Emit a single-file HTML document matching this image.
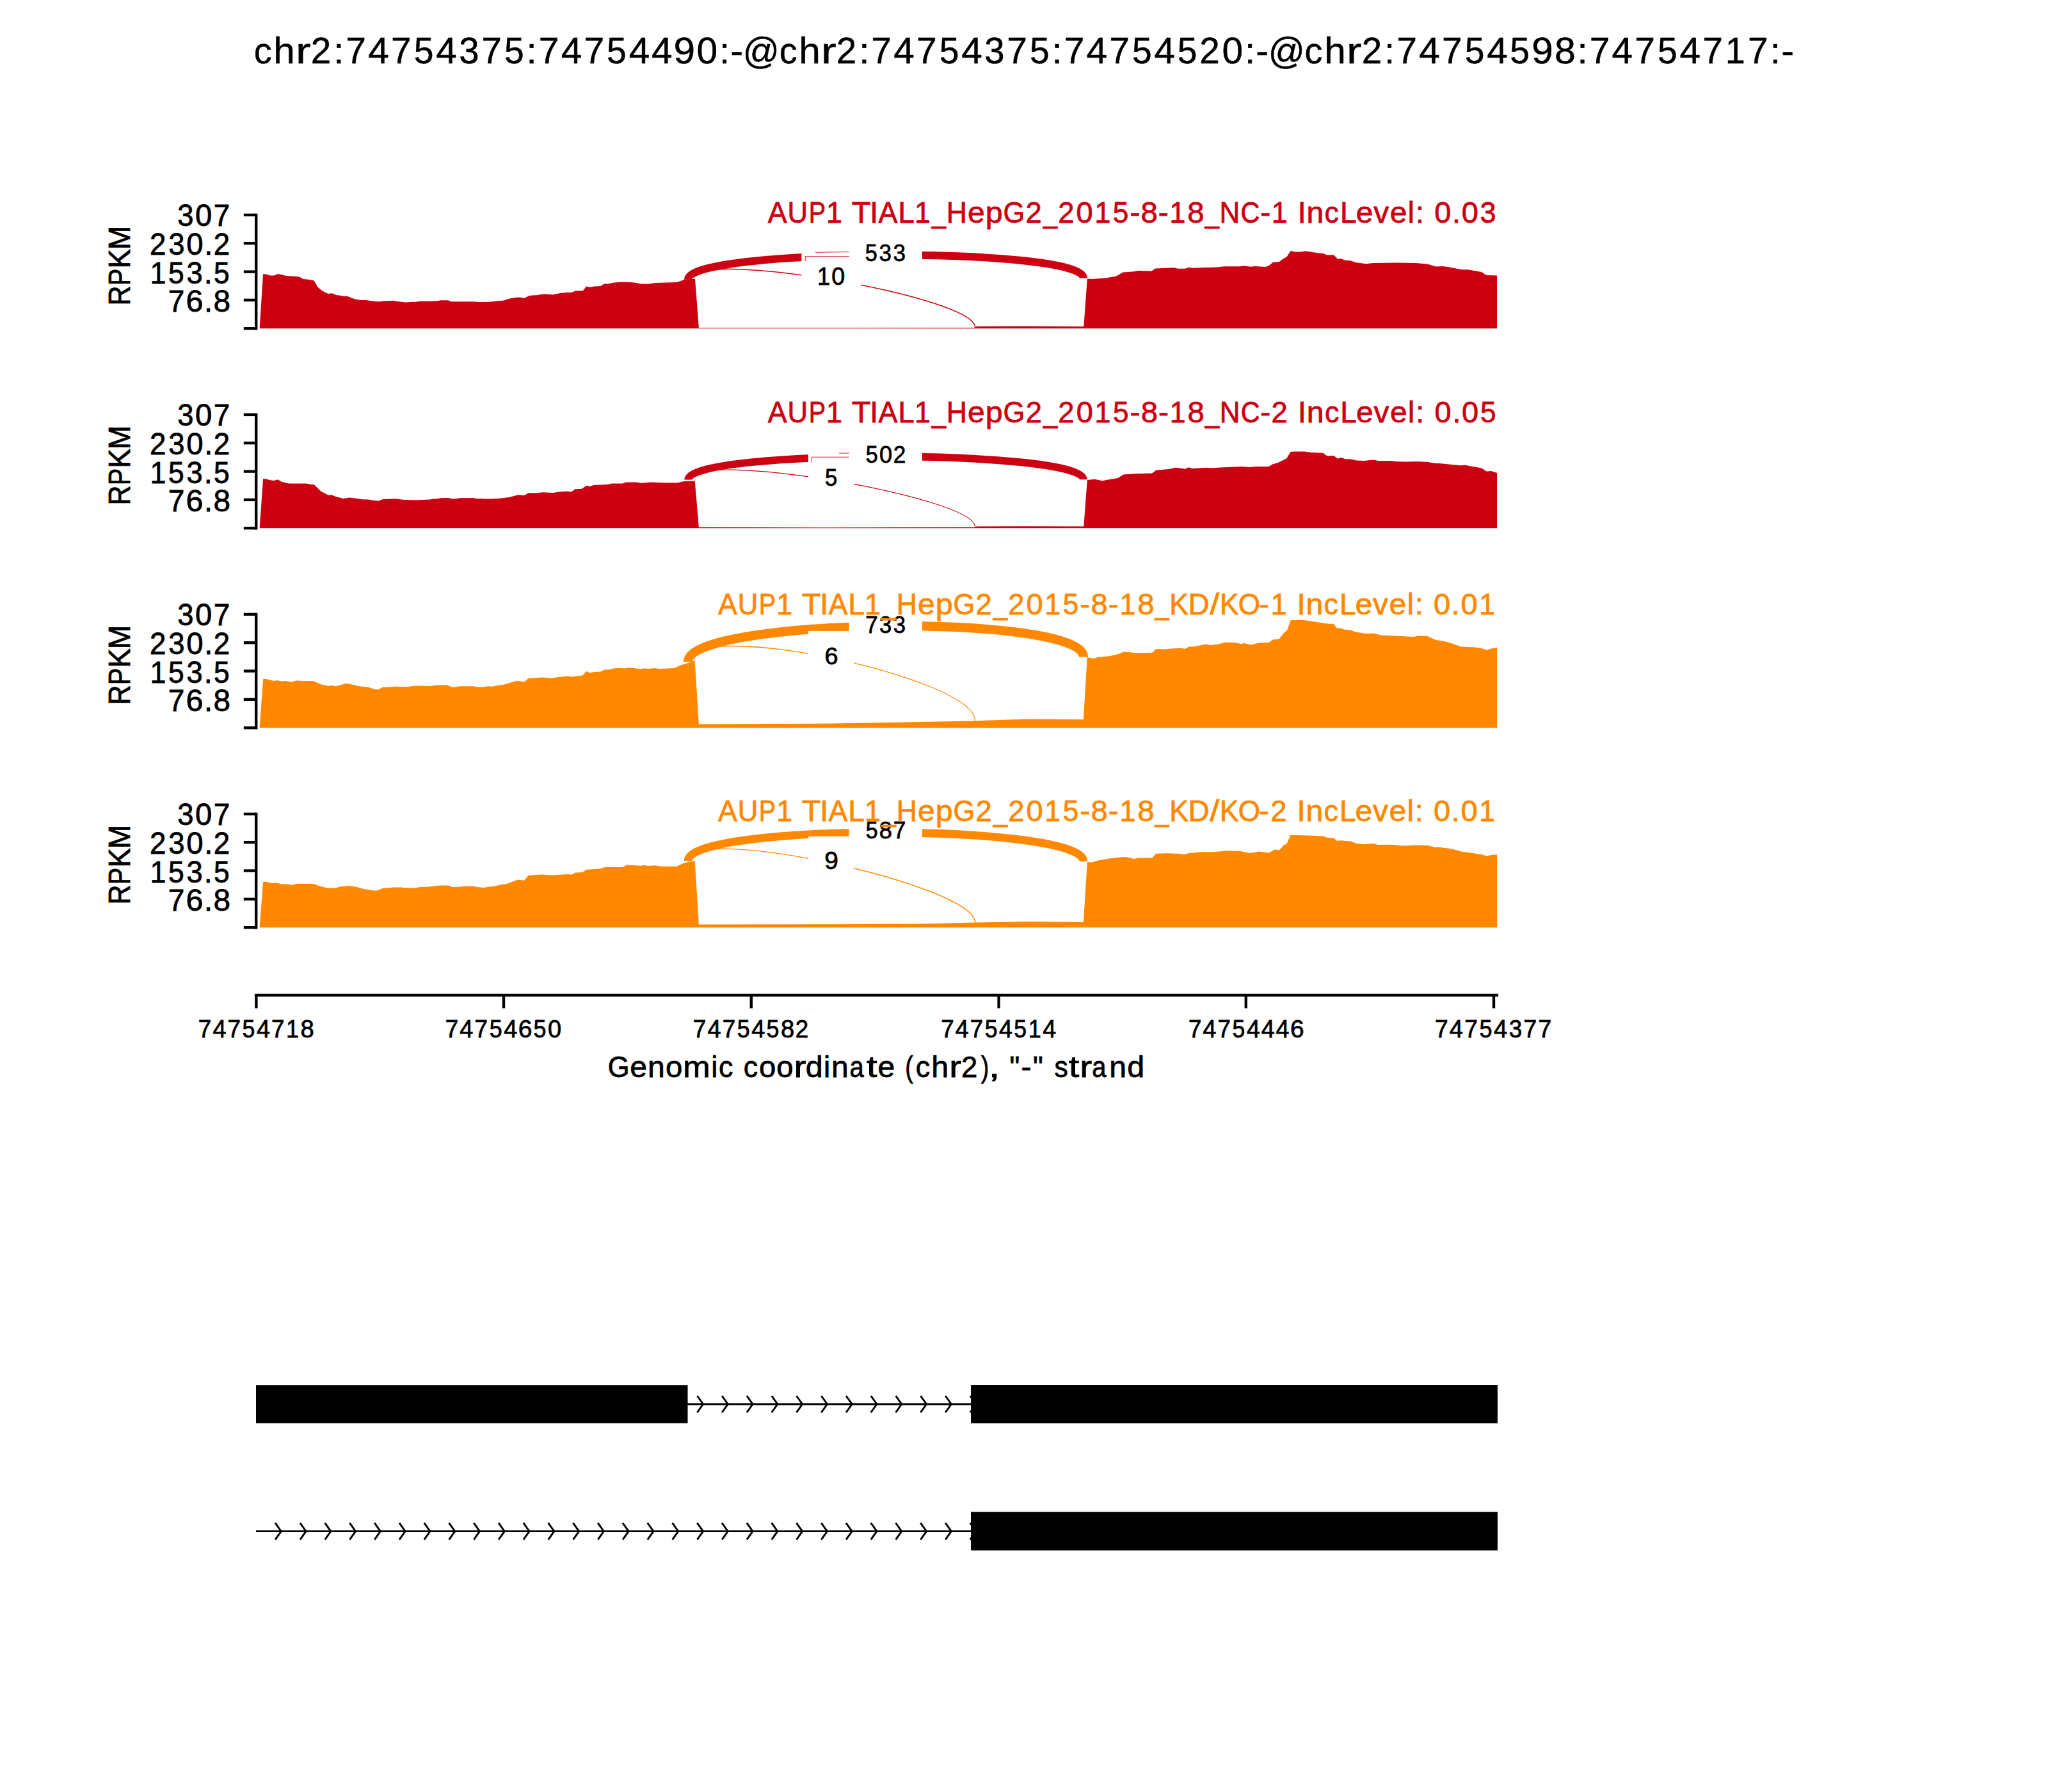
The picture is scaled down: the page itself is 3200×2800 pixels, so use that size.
<!DOCTYPE html><html><head><meta charset="utf-8"><style>html,body{margin:0;padding:0;background:#fff;}svg{display:block;}text{font-family:"Liberation Sans",sans-serif;}</style></head><body>
<svg width="3200" height="2800" viewBox="0 0 3200 2800">
<rect width="3200" height="2800" fill="#fff"/>
<g font-size="58.22" fill="#000" stroke="#000" stroke-width="0.5"><text x="396.68" y="98.60" textLength="27.93" lengthAdjust="spacingAndGlyphs">c</text><text x="427.30" y="98.60" textLength="33.63" lengthAdjust="spacingAndGlyphs">h</text><text x="462.12" y="98.60" textLength="23.62" lengthAdjust="spacingAndGlyphs">r</text><text x="485.75" y="98.60" textLength="31.57" lengthAdjust="spacingAndGlyphs">2</text><text x="521.17" y="98.60" textLength="16.22" lengthAdjust="spacingAndGlyphs">:</text><text x="540.33" y="98.60" textLength="31.74" lengthAdjust="spacingAndGlyphs">7</text><text x="575.26" y="98.60" textLength="32.57" lengthAdjust="spacingAndGlyphs">4</text><text x="611.00" y="98.60" textLength="31.74" lengthAdjust="spacingAndGlyphs">7</text><text x="646.70" y="98.60" textLength="30.72" lengthAdjust="spacingAndGlyphs">5</text><text x="681.26" y="98.60" textLength="32.57" lengthAdjust="spacingAndGlyphs">4</text><text x="717.33" y="98.60" textLength="31.38" lengthAdjust="spacingAndGlyphs">3</text><text x="752.34" y="98.60" textLength="31.74" lengthAdjust="spacingAndGlyphs">7</text><text x="788.04" y="98.60" textLength="30.72" lengthAdjust="spacingAndGlyphs">5</text><text x="822.55" y="98.60" textLength="16.22" lengthAdjust="spacingAndGlyphs">:</text><text x="841.72" y="98.60" textLength="31.74" lengthAdjust="spacingAndGlyphs">7</text><text x="876.65" y="98.60" textLength="32.57" lengthAdjust="spacingAndGlyphs">4</text><text x="912.39" y="98.60" textLength="31.74" lengthAdjust="spacingAndGlyphs">7</text><text x="948.09" y="98.60" textLength="30.72" lengthAdjust="spacingAndGlyphs">5</text><text x="982.65" y="98.60" textLength="32.57" lengthAdjust="spacingAndGlyphs">4</text><text x="1017.99" y="98.60" textLength="32.57" lengthAdjust="spacingAndGlyphs">4</text><text x="1052.61" y="98.60" textLength="33.56" lengthAdjust="spacingAndGlyphs">9</text><text x="1088.60" y="98.60" textLength="32.67" lengthAdjust="spacingAndGlyphs">0</text><text x="1123.94" y="98.60" textLength="16.22" lengthAdjust="spacingAndGlyphs">:</text><text x="1141.32" y="98.60" textLength="20.00" lengthAdjust="spacingAndGlyphs">-</text><text x="1160.67" y="98.60" textLength="57.20" lengthAdjust="spacingAndGlyphs">@</text><text x="1217.64" y="98.60" textLength="27.93" lengthAdjust="spacingAndGlyphs">c</text><text x="1248.26" y="98.60" textLength="33.63" lengthAdjust="spacingAndGlyphs">h</text><text x="1283.08" y="98.60" textLength="23.62" lengthAdjust="spacingAndGlyphs">r</text><text x="1306.71" y="98.60" textLength="31.57" lengthAdjust="spacingAndGlyphs">2</text><text x="1342.13" y="98.60" textLength="16.22" lengthAdjust="spacingAndGlyphs">:</text><text x="1361.30" y="98.60" textLength="31.74" lengthAdjust="spacingAndGlyphs">7</text><text x="1396.22" y="98.60" textLength="32.57" lengthAdjust="spacingAndGlyphs">4</text><text x="1431.97" y="98.60" textLength="31.74" lengthAdjust="spacingAndGlyphs">7</text><text x="1467.67" y="98.60" textLength="30.72" lengthAdjust="spacingAndGlyphs">5</text><text x="1502.23" y="98.60" textLength="32.57" lengthAdjust="spacingAndGlyphs">4</text><text x="1538.29" y="98.60" textLength="31.38" lengthAdjust="spacingAndGlyphs">3</text><text x="1573.31" y="98.60" textLength="31.74" lengthAdjust="spacingAndGlyphs">7</text><text x="1609.01" y="98.60" textLength="30.72" lengthAdjust="spacingAndGlyphs">5</text><text x="1643.52" y="98.60" textLength="16.22" lengthAdjust="spacingAndGlyphs">:</text><text x="1662.69" y="98.60" textLength="31.74" lengthAdjust="spacingAndGlyphs">7</text><text x="1697.61" y="98.60" textLength="32.57" lengthAdjust="spacingAndGlyphs">4</text><text x="1733.36" y="98.60" textLength="31.74" lengthAdjust="spacingAndGlyphs">7</text><text x="1769.06" y="98.60" textLength="30.72" lengthAdjust="spacingAndGlyphs">5</text><text x="1803.62" y="98.60" textLength="32.57" lengthAdjust="spacingAndGlyphs">4</text><text x="1839.73" y="98.60" textLength="30.72" lengthAdjust="spacingAndGlyphs">5</text><text x="1874.15" y="98.60" textLength="31.57" lengthAdjust="spacingAndGlyphs">2</text><text x="1909.56" y="98.60" textLength="32.67" lengthAdjust="spacingAndGlyphs">0</text><text x="1944.91" y="98.60" textLength="16.22" lengthAdjust="spacingAndGlyphs">:</text><text x="1962.28" y="98.60" textLength="20.00" lengthAdjust="spacingAndGlyphs">-</text><text x="1981.63" y="98.60" textLength="57.20" lengthAdjust="spacingAndGlyphs">@</text><text x="2038.60" y="98.60" textLength="27.93" lengthAdjust="spacingAndGlyphs">c</text><text x="2069.22" y="98.60" textLength="33.63" lengthAdjust="spacingAndGlyphs">h</text><text x="2104.04" y="98.60" textLength="23.62" lengthAdjust="spacingAndGlyphs">r</text><text x="2127.68" y="98.60" textLength="31.57" lengthAdjust="spacingAndGlyphs">2</text><text x="2163.09" y="98.60" textLength="16.22" lengthAdjust="spacingAndGlyphs">:</text><text x="2182.26" y="98.60" textLength="31.74" lengthAdjust="spacingAndGlyphs">7</text><text x="2217.19" y="98.60" textLength="32.57" lengthAdjust="spacingAndGlyphs">4</text><text x="2252.93" y="98.60" textLength="31.74" lengthAdjust="spacingAndGlyphs">7</text><text x="2288.63" y="98.60" textLength="30.72" lengthAdjust="spacingAndGlyphs">5</text><text x="2323.19" y="98.60" textLength="32.57" lengthAdjust="spacingAndGlyphs">4</text><text x="2359.30" y="98.60" textLength="30.72" lengthAdjust="spacingAndGlyphs">5</text><text x="2393.15" y="98.60" textLength="33.56" lengthAdjust="spacingAndGlyphs">9</text><text x="2429.11" y="98.60" textLength="32.86" lengthAdjust="spacingAndGlyphs">8</text><text x="2464.48" y="98.60" textLength="16.22" lengthAdjust="spacingAndGlyphs">:</text><text x="2483.65" y="98.60" textLength="31.74" lengthAdjust="spacingAndGlyphs">7</text><text x="2518.58" y="98.60" textLength="32.57" lengthAdjust="spacingAndGlyphs">4</text><text x="2554.32" y="98.60" textLength="31.74" lengthAdjust="spacingAndGlyphs">7</text><text x="2590.02" y="98.60" textLength="30.72" lengthAdjust="spacingAndGlyphs">5</text><text x="2624.58" y="98.60" textLength="32.57" lengthAdjust="spacingAndGlyphs">4</text><text x="2660.32" y="98.60" textLength="31.74" lengthAdjust="spacingAndGlyphs">7</text><text x="2695.85" y="98.60" textLength="31.07" lengthAdjust="spacingAndGlyphs">1</text><text x="2730.99" y="98.60" textLength="31.74" lengthAdjust="spacingAndGlyphs">7</text><text x="2765.87" y="98.60" textLength="16.22" lengthAdjust="spacingAndGlyphs">:</text><text x="2783.25" y="98.60" textLength="20.00" lengthAdjust="spacingAndGlyphs">-</text></g>
<polygon points="405.6,513.2 411.1,427.9 417.3,428.8 422.2,430.4 428.1,430.4 434.0,427.9 438.8,428.8 445.7,430.8 454.5,431.4 464.2,432.1 469.1,433.3 474.0,436.0 481.8,436.8 490.6,438.6 496.4,448.4 502.3,453.6 508.2,457.1 513.0,458.9 518.9,458.3 525.7,461.3 530.6,461.4 537.5,463.0 542.3,462.8 547.2,464.4 554.1,467.3 563.8,468.9 571.6,468.9 581.4,470.2 592.1,471.2 599.0,470.2 614.6,469.8 621.4,471.0 633.2,472.6 643.9,471.8 649.8,471.8 656.6,470.6 671.3,470.6 683.0,470.2 688.8,469.3 700.5,469.3 705.4,471.2 718.1,471.2 741.6,471.2 747.4,472.0 767.0,471.6 776.7,470.2 785.9,469.8 797.6,466.3 809.3,464.4 815.2,465.0 819.1,465.9 825.9,462.4 830.8,461.4 838.6,461.3 848.4,459.5 864.0,460.3 875.7,458.1 886.4,457.0 893.3,457.1 899.1,454.6 910.9,454.2 916.1,447.4 921.6,448.8 928.4,447.6 938.2,447.0 944.1,443.5 949.9,443.5 959.7,441.5 971.4,440.7 985.1,441.1 994.8,442.1 1000.7,443.5 1012.4,443.7 1024.1,442.1 1033.9,441.7 1057.3,440.9 1065.2,438.6 1069.1,436.6 1086.0,435.7 1091.9,512.2 1300.0,512.3 1522.0,512.0 1526.0,510.0 1600.0,509.8 1693.3,510.2 1698.8,435.4 1705.6,436.0 1727.1,434.5 1743.7,431.7 1754.5,425.5 1772.0,424.3 1777.9,423.1 1799.4,423.5 1805.2,419.6 1822.8,418.8 1835.1,418.2 1840.2,419.8 1851.6,419.8 1857.9,417.7 1863.0,418.8 1901.1,417.5 1913.8,416.2 1936.7,416.2 1943.0,415.2 1954.4,416.7 1960.8,416.0 1977.3,417.0 1982.4,415.2 1988.7,410.1 1998.9,409.1 2005.2,404.3 2010.8,401.0 2016.6,392.1 2023.0,393.6 2033.1,393.6 2039.5,392.3 2053.5,394.6 2067.4,395.9 2073.8,398.4 2083.9,398.2 2090.3,404.8 2095.4,404.0 2101.7,406.8 2109.3,407.1 2118.2,410.1 2134.7,412.2 2144.9,411.1 2185.5,410.6 2213.4,411.1 2231.2,412.7 2243.9,416.5 2254.1,416.0 2261.7,417.0 2284.5,421.3 2293.4,421.3 2315.0,425.1 2322.6,429.9 2339.1,430.4 2339.1,513.2" fill="#CC0011"/>
<path d="M1075.0,436.6 C1075.0,387.10 1693.0,385.00 1693.0,434.5" fill="none" stroke="#CC0011" stroke-width="12.0"/>
<path d="M1075.0,436.6 C1075.0,387.10 1523.6,462.00 1523.6,511.5" fill="none" stroke="#CC0011" stroke-width="1.6"/>
<line x1="400.2" y1="333.7" x2="400.2" y2="515.4" stroke="#000" stroke-width="4.4"/>
<line x1="380.8" y1="513.2" x2="400.2" y2="513.2" stroke="#000" stroke-width="4.4"/>
<line x1="380.8" y1="468.9" x2="400.2" y2="468.9" stroke="#000" stroke-width="4.4"/>
<line x1="380.8" y1="424.6" x2="400.2" y2="424.6" stroke="#000" stroke-width="4.4"/>
<line x1="380.8" y1="380.2" x2="400.2" y2="380.2" stroke="#000" stroke-width="4.4"/>
<line x1="380.8" y1="335.9" x2="400.2" y2="335.9" stroke="#000" stroke-width="4.4"/>
<polygon points="405.6,825.2 411.1,748.0 416.4,748.6 422.2,750.2 428.1,750.9 433.9,749.2 440.8,752.9 451.5,755.4 478.9,755.4 485.7,757.0 490.6,757.0 501.3,767.5 513.0,773.6 518.9,773.6 524.8,775.9 536.5,778.9 546.3,777.5 558.0,778.9 565.8,780.2 575.5,780.4 585.3,782.2 592.1,782.6 599.0,779.8 606.8,779.8 616.6,779.3 632.2,781.0 649.8,781.4 671.3,780.4 677.1,779.5 683.0,779.3 688.8,778.3 700.5,778.1 706.4,779.5 712.3,779.3 718.1,778.3 739.6,778.1 745.5,779.6 751.3,779.1 757.2,779.6 768.9,779.6 780.6,778.7 795.6,776.9 809.3,773.2 819.1,774.0 825.9,770.3 838.6,770.3 848.4,769.3 864.0,770.1 875.7,768.3 886.4,767.7 893.3,768.5 898.2,764.2 908.9,763.8 916.1,759.1 921.6,759.9 927.5,758.0 949.9,757.0 955.8,755.4 972.4,755.4 978.2,753.5 994.8,753.5 1001.7,754.8 1019.3,753.5 1033.9,754.3 1057.3,754.5 1069.1,752.1 1085.7,751.5 1091.9,823.8 1300.0,824.2 1522.0,823.8 1526.0,822.5 1600.0,822.3 1693.3,822.6 1698.8,749.9 1710.5,748.8 1722.2,751.3 1733.0,749.3 1746.6,747.0 1755.4,741.5 1775.9,740.0 1800.4,739.6 1806.2,734.7 1828.7,732.7 1835.1,730.8 1845.2,731.5 1851.6,732.8 1856.7,730.3 1863.0,732.1 1885.9,730.8 1892.2,731.5 1906.2,730.5 1941.7,729.0 1951.9,730.0 1962.0,729.0 1982.4,729.0 1988.7,725.2 1996.3,723.2 2010.3,716.3 2016.6,705.9 2023.0,705.4 2038.2,705.4 2048.4,706.9 2067.4,707.7 2073.8,712.5 2083.9,712.0 2090.3,716.8 2095.4,714.8 2101.7,717.3 2110.6,717.6 2119.5,719.4 2130.9,720.1 2146.2,718.6 2153.8,720.1 2174.1,720.1 2180.4,720.9 2195.7,721.6 2216.0,721.1 2231.2,721.9 2241.4,723.7 2249.0,723.9 2282.0,727.2 2289.6,726.7 2297.2,728.2 2315.0,731.5 2322.6,736.4 2330.3,735.9 2339.1,738.9 2339.1,825.2" fill="#CC0011"/>
<path d="M1075.0,749.6 C1075.0,701.60 1693.0,701.30 1693.0,749.3" fill="none" stroke="#CC0011" stroke-width="11.7"/>
<path d="M1075.0,749.6 C1075.0,701.60 1523.6,775.30 1523.6,823.3" fill="none" stroke="#CC0011" stroke-width="1.2"/>
<line x1="400.2" y1="645.7" x2="400.2" y2="827.4" stroke="#000" stroke-width="4.4"/>
<line x1="380.8" y1="825.2" x2="400.2" y2="825.2" stroke="#000" stroke-width="4.4"/>
<line x1="380.8" y1="780.9" x2="400.2" y2="780.9" stroke="#000" stroke-width="4.4"/>
<line x1="380.8" y1="736.6" x2="400.2" y2="736.6" stroke="#000" stroke-width="4.4"/>
<line x1="380.8" y1="692.2" x2="400.2" y2="692.2" stroke="#000" stroke-width="4.4"/>
<line x1="380.8" y1="647.9" x2="400.2" y2="647.9" stroke="#000" stroke-width="4.4"/>
<polygon points="405.6,1137.2 411.1,1060.9 416.4,1060.9 428.1,1064.1 433.0,1063.1 439.8,1064.5 445.7,1063.9 456.4,1065.4 463.2,1063.3 472.0,1063.9 489.6,1064.1 501.3,1069.3 513.0,1071.7 518.9,1070.9 524.8,1072.3 541.4,1067.8 552.1,1069.9 561.9,1072.3 575.5,1073.8 587.3,1077.5 592.1,1077.1 598.0,1073.8 608.8,1073.6 616.6,1072.7 636.1,1073.2 643.9,1072.1 655.6,1071.5 671.3,1072.1 681.0,1070.7 698.6,1070.3 706.4,1073.8 712.3,1073.6 718.1,1072.3 739.6,1072.3 747.4,1073.8 755.2,1073.2 763.0,1072.3 768.9,1072.7 778.7,1070.7 787.8,1069.5 807.3,1063.7 819.1,1065.2 825.9,1059.8 846.4,1058.4 862.0,1059.4 875.7,1057.4 887.4,1056.4 893.3,1057.4 899.1,1056.4 909.9,1055.5 916.1,1049.0 921.6,1051.2 928.4,1050.0 938.2,1049.6 945.0,1046.3 951.9,1046.3 959.7,1044.3 969.5,1043.8 975.3,1044.5 983.1,1043.2 990.9,1044.1 1000.7,1045.3 1006.6,1044.3 1012.4,1045.1 1022.2,1044.1 1030.0,1045.1 1053.4,1044.1 1063.2,1039.5 1073.0,1036.5 1085.7,1032.6 1091.9,1131.6 1300.0,1130.5 1440.0,1128.1 1522.0,1126.4 1576.7,1124.4 1606.0,1123.4 1635.3,1123.8 1692.9,1124.2 1698.8,1027.1 1709.5,1029.1 1715.4,1026.8 1733.0,1025.2 1746.6,1022.3 1755.4,1018.8 1768.1,1019.3 1772.0,1020.3 1800.4,1019.7 1806.2,1014.1 1820.9,1014.5 1830.0,1013.5 1845.2,1012.5 1851.6,1014.0 1857.9,1010.2 1864.3,1010.4 1884.6,1006.4 1890.9,1007.9 1903.6,1006.4 1913.8,1003.8 1929.0,1004.1 1939.2,1005.9 1944.3,1005.1 1954.4,1007.4 1967.1,1004.6 1982.4,1004.1 1988.7,999.5 1998.9,998.2 2005.2,989.9 2011.6,983.8 2016.6,969.0 2023.0,969.0 2037.0,969.0 2048.4,970.6 2067.4,973.4 2073.8,974.4 2083.9,974.9 2089.0,981.7 2094.1,981.2 2100.4,983.8 2109.3,984.3 2118.2,987.6 2134.7,990.1 2146.2,989.4 2157.6,992.4 2185.5,993.7 2208.4,994.9 2216.0,993.4 2230.0,993.7 2242.6,999.8 2259.1,1002.6 2271.8,1006.4 2283.3,1010.4 2304.9,1011.5 2315.0,1013.0 2322.6,1015.5 2330.3,1013.5 2339.1,1011.7 2339.1,1137.2" fill="#FF8800"/>
<path d="M1075.0,1034.0 C1075.0,964.75 1693.0,957.35 1693.0,1026.6" fill="none" stroke="#FF8800" stroke-width="14.3"/>
<path d="M1075.0,1034.0 C1075.0,964.75 1523.6,1057.15 1523.6,1126.4" fill="none" stroke="#FF8800" stroke-width="1.3"/>
<line x1="400.2" y1="957.7" x2="400.2" y2="1139.4" stroke="#000" stroke-width="4.4"/>
<line x1="380.8" y1="1137.2" x2="400.2" y2="1137.2" stroke="#000" stroke-width="4.4"/>
<line x1="380.8" y1="1092.9" x2="400.2" y2="1092.9" stroke="#000" stroke-width="4.4"/>
<line x1="380.8" y1="1048.5" x2="400.2" y2="1048.5" stroke="#000" stroke-width="4.4"/>
<line x1="380.8" y1="1004.2" x2="400.2" y2="1004.2" stroke="#000" stroke-width="4.4"/>
<line x1="380.8" y1="959.9" x2="400.2" y2="959.9" stroke="#000" stroke-width="4.4"/>
<polygon points="405.6,1449.2 411.1,1377.7 417.3,1378.1 423.2,1379.7 433.0,1379.5 439.8,1381.6 448.6,1381.6 456.4,1382.8 463.2,1381.1 490.6,1381.1 499.4,1384.4 512.1,1387.7 524.8,1387.5 530.6,1385.4 546.3,1384.0 558.0,1385.9 565.8,1388.5 585.3,1391.8 590.2,1391.2 598.0,1387.9 614.6,1386.5 626.3,1386.5 632.2,1387.3 649.8,1387.5 655.6,1386.1 671.3,1385.5 677.1,1384.4 688.8,1383.4 700.5,1383.6 706.4,1385.9 712.3,1385.9 718.1,1385.4 729.8,1384.6 739.6,1384.8 747.4,1386.3 757.2,1387.1 763.0,1385.4 772.8,1384.8 780.6,1382.6 791.7,1381.1 809.3,1374.6 819.1,1375.8 825.9,1367.8 846.4,1366.6 862.0,1367.4 887.4,1365.9 893.3,1366.4 899.1,1363.5 909.9,1362.9 916.1,1358.8 928.4,1358.0 938.2,1357.3 945.0,1355.1 955.8,1354.7 972.4,1355.1 979.2,1351.4 994.8,1352.2 1000.7,1352.8 1006.6,1351.8 1012.4,1353.0 1024.1,1352.2 1032.0,1353.8 1057.3,1353.8 1069.1,1348.3 1085.7,1345.0 1091.9,1444.6 1300.0,1444.2 1440.0,1443.6 1522.0,1441.6 1606.0,1440.0 1692.9,1440.7 1698.8,1346.9 1705.6,1347.5 1715.4,1344.4 1733.0,1341.6 1754.5,1339.1 1762.3,1339.5 1772.0,1342.0 1777.9,1340.5 1800.4,1340.5 1806.2,1333.8 1822.8,1333.2 1830.0,1333.6 1845.2,1334.1 1850.3,1334.9 1857.9,1333.1 1880.8,1331.1 1892.2,1331.6 1918.9,1329.3 1936.7,1329.8 1954.4,1332.9 1967.1,1330.6 1982.4,1332.4 1992.5,1327.3 1998.9,1328.6 2005.2,1320.9 2010.8,1317.9 2016.6,1304.4 2023.0,1304.9 2053.5,1305.7 2067.4,1306.5 2073.8,1308.8 2083.9,1309.5 2089.0,1313.8 2094.1,1313.3 2110.6,1314.6 2119.5,1317.9 2132.2,1318.9 2146.2,1317.9 2152.5,1319.9 2175.4,1319.7 2190.6,1321.5 2216.0,1320.4 2231.2,1320.9 2242.6,1324.0 2246.5,1323.5 2269.3,1326.5 2283.3,1330.6 2294.7,1331.9 2307.4,1334.1 2315.0,1334.9 2322.6,1337.5 2331.5,1335.7 2339.1,1335.2 2339.1,1449.2" fill="#FF8800"/>
<path d="M1075.0,1345.0 C1075.0,1285.50 1693.0,1286.40 1693.0,1345.9" fill="none" stroke="#FF8800" stroke-width="12.6"/>
<path d="M1075.0,1345.0 C1075.0,1285.50 1523.6,1382.10 1523.6,1441.6" fill="none" stroke="#FF8800" stroke-width="1.5"/>
<line x1="400.2" y1="1269.7" x2="400.2" y2="1451.4" stroke="#000" stroke-width="4.4"/>
<line x1="380.8" y1="1449.2" x2="400.2" y2="1449.2" stroke="#000" stroke-width="4.4"/>
<line x1="380.8" y1="1404.9" x2="400.2" y2="1404.9" stroke="#000" stroke-width="4.4"/>
<line x1="380.8" y1="1360.5" x2="400.2" y2="1360.5" stroke="#000" stroke-width="4.4"/>
<line x1="380.8" y1="1316.2" x2="400.2" y2="1316.2" stroke="#000" stroke-width="4.4"/>
<line x1="380.8" y1="1271.9" x2="400.2" y2="1271.9" stroke="#000" stroke-width="4.4"/>
<rect x="1326.6" y="356.0" width="114.40000000000009" height="84" fill="#fff"/>
<rect x="1252.4" y="393.0" width="92.6" height="84.0" fill="#fff"/>
<rect x="1326.6" y="671.0" width="114.40000000000009" height="84" fill="#fff"/>
<rect x="1262.9" y="707.0" width="71.6" height="84.0" fill="#fff"/>
<rect x="1326.6" y="936.2" width="114.40000000000009" height="84" fill="#fff"/>
<rect x="1263" y="985.9" width="71.4" height="84.1" fill="#fff"/>
<rect x="1326.6" y="1258.1" width="114.40000000000009" height="84" fill="#fff"/>
<rect x="1263.1" y="1306.8" width="71.3" height="83.2" fill="#fff"/>
<path d="M1258.3,408 V400.6 H1327 M1274,394.3 L1327,393.6 M1310.9,708.1 H1326.8 M1268.1,722.6 V714.2 H1326.8" fill="none" stroke="#CC0011" stroke-width="1" opacity="0.85"/>
<g font-size="36.75" fill="#000" stroke="#000" stroke-width="0.8"><text x="1351.63" y="408.30" textLength="19.10" lengthAdjust="spacingAndGlyphs">5</text><text x="1373.56" y="408.30" textLength="19.50" lengthAdjust="spacingAndGlyphs">3</text><text x="1395.53" y="408.30" textLength="19.50" lengthAdjust="spacingAndGlyphs">3</text></g>
<g font-size="37.92" fill="#000" stroke="#000" stroke-width="0.8"><text x="1277.01" y="444.80" textLength="19.93" lengthAdjust="spacingAndGlyphs">1</text><text x="1299.26" y="444.80" textLength="20.96" lengthAdjust="spacingAndGlyphs">0</text></g>
<g font-size="36.56" fill="#000" stroke="#000" stroke-width="0.8"><text x="1352.63" y="723.00" textLength="19.00" lengthAdjust="spacingAndGlyphs">5</text><text x="1373.97" y="723.00" textLength="20.20" lengthAdjust="spacingAndGlyphs">0</text><text x="1395.78" y="723.00" textLength="19.52" lengthAdjust="spacingAndGlyphs">2</text></g>
<g font-size="37.08" fill="#000" stroke="#000" stroke-width="0.8"><text x="1289.11" y="758.70" textLength="19.32" lengthAdjust="spacingAndGlyphs">5</text></g>
<g font-size="36.25" fill="#000" stroke="#000" stroke-width="0.8"><text x="1352.25" y="988.50" textLength="19.46" lengthAdjust="spacingAndGlyphs">7</text><text x="1374.11" y="988.50" textLength="19.24" lengthAdjust="spacingAndGlyphs">3</text><text x="1395.77" y="988.50" textLength="19.24" lengthAdjust="spacingAndGlyphs">3</text></g>
<g font-size="37.07" fill="#000" stroke="#000" stroke-width="0.8"><text x="1288.61" y="1038.30" textLength="21.04" lengthAdjust="spacingAndGlyphs">6</text></g>
<g font-size="36.30" fill="#000" stroke="#000" stroke-width="0.8"><text x="1352.64" y="1309.90" textLength="18.86" lengthAdjust="spacingAndGlyphs">5</text><text x="1373.81" y="1309.90" textLength="20.17" lengthAdjust="spacingAndGlyphs">8</text><text x="1395.81" y="1309.90" textLength="19.49" lengthAdjust="spacingAndGlyphs">7</text></g>
<g font-size="38.13" fill="#000" stroke="#000" stroke-width="0.8"><text x="1288.15" y="1357.80" textLength="21.65" lengthAdjust="spacingAndGlyphs">9</text></g>
<g font-size="46.66" fill="#CC0011" stroke="#CC0011" stroke-width="0.8"><text x="1199.79" y="348.30" textLength="29.91" lengthAdjust="spacingAndGlyphs">A</text><text x="1230.52" y="348.30" textLength="31.58" lengthAdjust="spacingAndGlyphs">U</text><text x="1263.68" y="348.30" textLength="26.34" lengthAdjust="spacingAndGlyphs">P</text><text x="1290.98" y="348.30" textLength="24.90" lengthAdjust="spacingAndGlyphs">1</text><text x="1330.70" y="348.30" textLength="29.72" lengthAdjust="spacingAndGlyphs">T</text><text x="1358.98" y="348.30" textLength="13.37" lengthAdjust="spacingAndGlyphs">I</text><text x="1372.44" y="348.30" textLength="29.91" lengthAdjust="spacingAndGlyphs">A</text><text x="1403.21" y="348.30" textLength="25.60" lengthAdjust="spacingAndGlyphs">L</text><text x="1429.01" y="348.30" textLength="24.90" lengthAdjust="spacingAndGlyphs">1</text><text x="1455.94" y="348.30" textLength="22.10" lengthAdjust="spacingAndGlyphs">_</text><text x="1478.71" y="348.30" textLength="32.14" lengthAdjust="spacingAndGlyphs">H</text><text x="1511.92" y="348.30" textLength="26.73" lengthAdjust="spacingAndGlyphs">e</text><text x="1539.75" y="348.30" textLength="26.96" lengthAdjust="spacingAndGlyphs">p</text><text x="1567.43" y="348.30" textLength="33.83" lengthAdjust="spacingAndGlyphs">G</text><text x="1602.60" y="348.30" textLength="25.30" lengthAdjust="spacingAndGlyphs">2</text><text x="1630.11" y="348.30" textLength="22.10" lengthAdjust="spacingAndGlyphs">_</text><text x="1653.17" y="348.30" textLength="25.30" lengthAdjust="spacingAndGlyphs">2</text><text x="1681.55" y="348.30" textLength="26.18" lengthAdjust="spacingAndGlyphs">0</text><text x="1710.40" y="348.30" textLength="24.90" lengthAdjust="spacingAndGlyphs">1</text><text x="1738.86" y="348.30" textLength="24.63" lengthAdjust="spacingAndGlyphs">5</text><text x="1765.45" y="348.30" textLength="16.03" lengthAdjust="spacingAndGlyphs">-</text><text x="1782.55" y="348.30" textLength="26.34" lengthAdjust="spacingAndGlyphs">8</text><text x="1809.83" y="348.30" textLength="16.03" lengthAdjust="spacingAndGlyphs">-</text><text x="1827.48" y="348.30" textLength="24.90" lengthAdjust="spacingAndGlyphs">1</text><text x="1855.25" y="348.30" textLength="26.34" lengthAdjust="spacingAndGlyphs">8</text><text x="1882.73" y="348.30" textLength="22.10" lengthAdjust="spacingAndGlyphs">_</text><text x="1905.54" y="348.30" textLength="31.86" lengthAdjust="spacingAndGlyphs">N</text><text x="1938.51" y="348.30" textLength="29.87" lengthAdjust="spacingAndGlyphs">C</text><text x="1969.16" y="348.30" textLength="16.03" lengthAdjust="spacingAndGlyphs">-</text><text x="1986.81" y="348.30" textLength="24.90" lengthAdjust="spacingAndGlyphs">1</text><text x="2027.63" y="348.30" textLength="13.37" lengthAdjust="spacingAndGlyphs">I</text><text x="2041.62" y="348.30" textLength="26.79" lengthAdjust="spacingAndGlyphs">n</text><text x="2069.62" y="348.30" textLength="22.38" lengthAdjust="spacingAndGlyphs">c</text><text x="2094.09" y="348.30" textLength="25.60" lengthAdjust="spacingAndGlyphs">L</text><text x="2118.75" y="348.30" textLength="26.73" lengthAdjust="spacingAndGlyphs">e</text><text x="2146.17" y="348.30" textLength="23.94" lengthAdjust="spacingAndGlyphs">v</text><text x="2171.70" y="348.30" textLength="26.73" lengthAdjust="spacingAndGlyphs">e</text><text x="2199.81" y="348.30" textLength="10.17" lengthAdjust="spacingAndGlyphs">l</text><text x="2212.06" y="348.30" textLength="13.00" lengthAdjust="spacingAndGlyphs">:</text><text x="2241.20" y="348.30" textLength="26.18" lengthAdjust="spacingAndGlyphs">0</text><text x="2269.08" y="348.30" textLength="13.00" lengthAdjust="spacingAndGlyphs">.</text><text x="2283.67" y="348.30" textLength="26.18" lengthAdjust="spacingAndGlyphs">0</text><text x="2312.62" y="348.30" textLength="25.15" lengthAdjust="spacingAndGlyphs">3</text></g>
<g font-size="46.67" fill="#CC0011" stroke="#CC0011" stroke-width="0.8"><text x="1199.79" y="660.40" textLength="29.92" lengthAdjust="spacingAndGlyphs">A</text><text x="1230.53" y="660.40" textLength="31.59" lengthAdjust="spacingAndGlyphs">U</text><text x="1263.70" y="660.40" textLength="26.35" lengthAdjust="spacingAndGlyphs">P</text><text x="1291.00" y="660.40" textLength="24.91" lengthAdjust="spacingAndGlyphs">1</text><text x="1330.74" y="660.40" textLength="29.72" lengthAdjust="spacingAndGlyphs">T</text><text x="1359.03" y="660.40" textLength="13.37" lengthAdjust="spacingAndGlyphs">I</text><text x="1372.49" y="660.40" textLength="29.92" lengthAdjust="spacingAndGlyphs">A</text><text x="1403.27" y="660.40" textLength="25.61" lengthAdjust="spacingAndGlyphs">L</text><text x="1429.08" y="660.40" textLength="24.91" lengthAdjust="spacingAndGlyphs">1</text><text x="1456.02" y="660.40" textLength="22.11" lengthAdjust="spacingAndGlyphs">_</text><text x="1478.79" y="660.40" textLength="32.15" lengthAdjust="spacingAndGlyphs">H</text><text x="1512.01" y="660.40" textLength="26.74" lengthAdjust="spacingAndGlyphs">e</text><text x="1539.85" y="660.40" textLength="26.96" lengthAdjust="spacingAndGlyphs">p</text><text x="1567.53" y="660.40" textLength="33.84" lengthAdjust="spacingAndGlyphs">G</text><text x="1602.72" y="660.40" textLength="25.31" lengthAdjust="spacingAndGlyphs">2</text><text x="1630.24" y="660.40" textLength="22.11" lengthAdjust="spacingAndGlyphs">_</text><text x="1653.30" y="660.40" textLength="25.31" lengthAdjust="spacingAndGlyphs">2</text><text x="1681.69" y="660.40" textLength="26.19" lengthAdjust="spacingAndGlyphs">0</text><text x="1710.55" y="660.40" textLength="24.91" lengthAdjust="spacingAndGlyphs">1</text><text x="1739.01" y="660.40" textLength="24.63" lengthAdjust="spacingAndGlyphs">5</text><text x="1765.61" y="660.40" textLength="16.04" lengthAdjust="spacingAndGlyphs">-</text><text x="1782.72" y="660.40" textLength="26.34" lengthAdjust="spacingAndGlyphs">8</text><text x="1810.01" y="660.40" textLength="16.04" lengthAdjust="spacingAndGlyphs">-</text><text x="1827.66" y="660.40" textLength="24.91" lengthAdjust="spacingAndGlyphs">1</text><text x="1855.45" y="660.40" textLength="26.34" lengthAdjust="spacingAndGlyphs">8</text><text x="1882.93" y="660.40" textLength="22.11" lengthAdjust="spacingAndGlyphs">_</text><text x="1905.74" y="660.40" textLength="31.87" lengthAdjust="spacingAndGlyphs">N</text><text x="1938.73" y="660.40" textLength="29.88" lengthAdjust="spacingAndGlyphs">C</text><text x="1969.38" y="660.40" textLength="16.04" lengthAdjust="spacingAndGlyphs">-</text><text x="1986.46" y="660.40" textLength="25.31" lengthAdjust="spacingAndGlyphs">2</text><text x="2027.87" y="660.40" textLength="13.37" lengthAdjust="spacingAndGlyphs">I</text><text x="2041.87" y="660.40" textLength="26.80" lengthAdjust="spacingAndGlyphs">n</text><text x="2069.88" y="660.40" textLength="22.39" lengthAdjust="spacingAndGlyphs">c</text><text x="2094.36" y="660.40" textLength="25.61" lengthAdjust="spacingAndGlyphs">L</text><text x="2119.02" y="660.40" textLength="26.74" lengthAdjust="spacingAndGlyphs">e</text><text x="2146.44" y="660.40" textLength="23.95" lengthAdjust="spacingAndGlyphs">v</text><text x="2171.98" y="660.40" textLength="26.74" lengthAdjust="spacingAndGlyphs">e</text><text x="2200.11" y="660.40" textLength="10.18" lengthAdjust="spacingAndGlyphs">l</text><text x="2212.36" y="660.40" textLength="13.01" lengthAdjust="spacingAndGlyphs">:</text><text x="2241.50" y="660.40" textLength="26.19" lengthAdjust="spacingAndGlyphs">0</text><text x="2269.40" y="660.40" textLength="13.01" lengthAdjust="spacingAndGlyphs">.</text><text x="2283.99" y="660.40" textLength="26.19" lengthAdjust="spacingAndGlyphs">0</text><text x="2312.98" y="660.40" textLength="24.63" lengthAdjust="spacingAndGlyphs">5</text></g>
<g font-size="46.64" fill="#FF8800" stroke="#FF8800" stroke-width="0.8"><text x="1121.99" y="959.60" textLength="29.90" lengthAdjust="spacingAndGlyphs">A</text><text x="1152.71" y="959.60" textLength="31.56" lengthAdjust="spacingAndGlyphs">U</text><text x="1185.85" y="959.60" textLength="26.33" lengthAdjust="spacingAndGlyphs">P</text><text x="1213.13" y="959.60" textLength="24.89" lengthAdjust="spacingAndGlyphs">1</text><text x="1252.84" y="959.60" textLength="29.70" lengthAdjust="spacingAndGlyphs">T</text><text x="1281.11" y="959.60" textLength="13.36" lengthAdjust="spacingAndGlyphs">I</text><text x="1294.56" y="959.60" textLength="29.90" lengthAdjust="spacingAndGlyphs">A</text><text x="1325.32" y="959.60" textLength="25.59" lengthAdjust="spacingAndGlyphs">L</text><text x="1351.10" y="959.60" textLength="24.89" lengthAdjust="spacingAndGlyphs">1</text><text x="1378.02" y="959.60" textLength="22.09" lengthAdjust="spacingAndGlyphs">_</text><text x="1400.78" y="959.60" textLength="32.13" lengthAdjust="spacingAndGlyphs">H</text><text x="1433.98" y="959.60" textLength="26.72" lengthAdjust="spacingAndGlyphs">e</text><text x="1461.80" y="959.60" textLength="26.94" lengthAdjust="spacingAndGlyphs">p</text><text x="1489.46" y="959.60" textLength="33.81" lengthAdjust="spacingAndGlyphs">G</text><text x="1524.61" y="959.60" textLength="25.29" lengthAdjust="spacingAndGlyphs">2</text><text x="1552.12" y="959.60" textLength="22.09" lengthAdjust="spacingAndGlyphs">_</text><text x="1575.16" y="959.60" textLength="25.29" lengthAdjust="spacingAndGlyphs">2</text><text x="1603.53" y="959.60" textLength="26.17" lengthAdjust="spacingAndGlyphs">0</text><text x="1632.36" y="959.60" textLength="24.89" lengthAdjust="spacingAndGlyphs">1</text><text x="1660.81" y="959.60" textLength="24.61" lengthAdjust="spacingAndGlyphs">5</text><text x="1687.39" y="959.60" textLength="16.02" lengthAdjust="spacingAndGlyphs">-</text><text x="1704.48" y="959.60" textLength="26.32" lengthAdjust="spacingAndGlyphs">8</text><text x="1731.75" y="959.60" textLength="16.02" lengthAdjust="spacingAndGlyphs">-</text><text x="1749.39" y="959.60" textLength="24.89" lengthAdjust="spacingAndGlyphs">1</text><text x="1777.15" y="959.60" textLength="26.32" lengthAdjust="spacingAndGlyphs">8</text><text x="1804.62" y="959.60" textLength="22.09" lengthAdjust="spacingAndGlyphs">_</text><text x="1827.35" y="959.60" textLength="29.93" lengthAdjust="spacingAndGlyphs">K</text><text x="1856.43" y="959.60" textLength="33.21" lengthAdjust="spacingAndGlyphs">D</text><text x="1890.15" y="959.60" textLength="15.03" lengthAdjust="spacingAndGlyphs">/</text><text x="1905.77" y="959.60" textLength="29.93" lengthAdjust="spacingAndGlyphs">K</text><text x="1934.67" y="959.60" textLength="34.23" lengthAdjust="spacingAndGlyphs">O</text><text x="1966.84" y="959.60" textLength="16.02" lengthAdjust="spacingAndGlyphs">-</text><text x="1985.73" y="959.60" textLength="24.89" lengthAdjust="spacingAndGlyphs">1</text><text x="2026.53" y="959.60" textLength="13.36" lengthAdjust="spacingAndGlyphs">I</text><text x="2040.51" y="959.60" textLength="26.78" lengthAdjust="spacingAndGlyphs">n</text><text x="2068.50" y="959.60" textLength="22.37" lengthAdjust="spacingAndGlyphs">c</text><text x="2092.96" y="959.60" textLength="25.59" lengthAdjust="spacingAndGlyphs">L</text><text x="2117.61" y="959.60" textLength="26.72" lengthAdjust="spacingAndGlyphs">e</text><text x="2145.01" y="959.60" textLength="23.93" lengthAdjust="spacingAndGlyphs">v</text><text x="2170.53" y="959.60" textLength="26.72" lengthAdjust="spacingAndGlyphs">e</text><text x="2198.63" y="959.60" textLength="10.17" lengthAdjust="spacingAndGlyphs">l</text><text x="2210.87" y="959.60" textLength="13.00" lengthAdjust="spacingAndGlyphs">:</text><text x="2240.00" y="959.60" textLength="26.17" lengthAdjust="spacingAndGlyphs">0</text><text x="2267.87" y="959.60" textLength="13.00" lengthAdjust="spacingAndGlyphs">.</text><text x="2282.45" y="959.60" textLength="26.17" lengthAdjust="spacingAndGlyphs">0</text><text x="2311.28" y="959.60" textLength="24.89" lengthAdjust="spacingAndGlyphs">1</text></g>
<g font-size="46.64" fill="#FF8800" stroke="#FF8800" stroke-width="0.8"><text x="1121.99" y="1283.40" textLength="29.90" lengthAdjust="spacingAndGlyphs">A</text><text x="1152.71" y="1283.40" textLength="31.56" lengthAdjust="spacingAndGlyphs">U</text><text x="1185.85" y="1283.40" textLength="26.33" lengthAdjust="spacingAndGlyphs">P</text><text x="1213.13" y="1283.40" textLength="24.89" lengthAdjust="spacingAndGlyphs">1</text><text x="1252.84" y="1283.40" textLength="29.70" lengthAdjust="spacingAndGlyphs">T</text><text x="1281.11" y="1283.40" textLength="13.36" lengthAdjust="spacingAndGlyphs">I</text><text x="1294.56" y="1283.40" textLength="29.90" lengthAdjust="spacingAndGlyphs">A</text><text x="1325.32" y="1283.40" textLength="25.59" lengthAdjust="spacingAndGlyphs">L</text><text x="1351.10" y="1283.40" textLength="24.89" lengthAdjust="spacingAndGlyphs">1</text><text x="1378.02" y="1283.40" textLength="22.09" lengthAdjust="spacingAndGlyphs">_</text><text x="1400.78" y="1283.40" textLength="32.13" lengthAdjust="spacingAndGlyphs">H</text><text x="1433.98" y="1283.40" textLength="26.72" lengthAdjust="spacingAndGlyphs">e</text><text x="1461.80" y="1283.40" textLength="26.94" lengthAdjust="spacingAndGlyphs">p</text><text x="1489.46" y="1283.40" textLength="33.81" lengthAdjust="spacingAndGlyphs">G</text><text x="1524.61" y="1283.40" textLength="25.29" lengthAdjust="spacingAndGlyphs">2</text><text x="1552.12" y="1283.40" textLength="22.09" lengthAdjust="spacingAndGlyphs">_</text><text x="1575.16" y="1283.40" textLength="25.29" lengthAdjust="spacingAndGlyphs">2</text><text x="1603.53" y="1283.40" textLength="26.17" lengthAdjust="spacingAndGlyphs">0</text><text x="1632.36" y="1283.40" textLength="24.89" lengthAdjust="spacingAndGlyphs">1</text><text x="1660.81" y="1283.40" textLength="24.61" lengthAdjust="spacingAndGlyphs">5</text><text x="1687.39" y="1283.40" textLength="16.02" lengthAdjust="spacingAndGlyphs">-</text><text x="1704.48" y="1283.40" textLength="26.32" lengthAdjust="spacingAndGlyphs">8</text><text x="1731.75" y="1283.40" textLength="16.02" lengthAdjust="spacingAndGlyphs">-</text><text x="1749.39" y="1283.40" textLength="24.89" lengthAdjust="spacingAndGlyphs">1</text><text x="1777.15" y="1283.40" textLength="26.32" lengthAdjust="spacingAndGlyphs">8</text><text x="1804.62" y="1283.40" textLength="22.09" lengthAdjust="spacingAndGlyphs">_</text><text x="1827.35" y="1283.40" textLength="29.93" lengthAdjust="spacingAndGlyphs">K</text><text x="1856.43" y="1283.40" textLength="33.21" lengthAdjust="spacingAndGlyphs">D</text><text x="1890.15" y="1283.40" textLength="15.03" lengthAdjust="spacingAndGlyphs">/</text><text x="1905.77" y="1283.40" textLength="29.93" lengthAdjust="spacingAndGlyphs">K</text><text x="1934.67" y="1283.40" textLength="34.23" lengthAdjust="spacingAndGlyphs">O</text><text x="1966.84" y="1283.40" textLength="16.02" lengthAdjust="spacingAndGlyphs">-</text><text x="1985.14" y="1283.40" textLength="25.29" lengthAdjust="spacingAndGlyphs">2</text><text x="2026.53" y="1283.40" textLength="13.36" lengthAdjust="spacingAndGlyphs">I</text><text x="2040.51" y="1283.40" textLength="26.78" lengthAdjust="spacingAndGlyphs">n</text><text x="2068.50" y="1283.40" textLength="22.37" lengthAdjust="spacingAndGlyphs">c</text><text x="2092.96" y="1283.40" textLength="25.59" lengthAdjust="spacingAndGlyphs">L</text><text x="2117.61" y="1283.40" textLength="26.72" lengthAdjust="spacingAndGlyphs">e</text><text x="2145.01" y="1283.40" textLength="23.93" lengthAdjust="spacingAndGlyphs">v</text><text x="2170.53" y="1283.40" textLength="26.72" lengthAdjust="spacingAndGlyphs">e</text><text x="2198.63" y="1283.40" textLength="10.17" lengthAdjust="spacingAndGlyphs">l</text><text x="2210.87" y="1283.40" textLength="13.00" lengthAdjust="spacingAndGlyphs">:</text><text x="2240.00" y="1283.40" textLength="26.17" lengthAdjust="spacingAndGlyphs">0</text><text x="2267.87" y="1283.40" textLength="13.00" lengthAdjust="spacingAndGlyphs">.</text><text x="2282.45" y="1283.40" textLength="26.17" lengthAdjust="spacingAndGlyphs">0</text><text x="2311.28" y="1283.40" textLength="24.89" lengthAdjust="spacingAndGlyphs">1</text></g>
<g font-size="47.58" fill="#000" stroke="#000" stroke-width="0.8"><text x="277.20" y="353.20" textLength="25.25" lengthAdjust="spacingAndGlyphs">3</text><text x="305.00" y="353.20" textLength="26.29" lengthAdjust="spacingAndGlyphs">0</text><text x="333.81" y="353.20" textLength="25.54" lengthAdjust="spacingAndGlyphs">7</text></g>
<g font-size="47.68" fill="#000" stroke="#000" stroke-width="0.8"><text x="234.11" y="397.50" textLength="25.46" lengthAdjust="spacingAndGlyphs">2</text><text x="263.30" y="397.50" textLength="25.30" lengthAdjust="spacingAndGlyphs">3</text><text x="291.17" y="397.50" textLength="26.35" lengthAdjust="spacingAndGlyphs">0</text><text x="319.22" y="397.50" textLength="13.08" lengthAdjust="spacingAndGlyphs">.</text><text x="333.84" y="397.50" textLength="25.46" lengthAdjust="spacingAndGlyphs">2</text></g>
<g font-size="47.53" fill="#000" stroke="#000" stroke-width="0.8"><text x="234.53" y="442.60" textLength="24.98" lengthAdjust="spacingAndGlyphs">1</text><text x="263.08" y="442.60" textLength="24.70" lengthAdjust="spacingAndGlyphs">5</text><text x="291.45" y="442.60" textLength="25.22" lengthAdjust="spacingAndGlyphs">3</text><text x="318.79" y="442.60" textLength="13.04" lengthAdjust="spacingAndGlyphs">.</text><text x="334.09" y="442.60" textLength="24.70" lengthAdjust="spacingAndGlyphs">5</text></g>
<g font-size="47.71" fill="#000" stroke="#000" stroke-width="0.8"><text x="262.70" y="486.60" textLength="25.61" lengthAdjust="spacingAndGlyphs">7</text><text x="290.52" y="486.60" textLength="27.08" lengthAdjust="spacingAndGlyphs">6</text><text x="318.91" y="486.60" textLength="13.09" lengthAdjust="spacingAndGlyphs">.</text><text x="333.58" y="486.60" textLength="26.52" lengthAdjust="spacingAndGlyphs">8</text></g>
<g font-size="47.58" fill="#000" stroke="#000" stroke-width="0.8" transform="rotate(-90)"><text x="-477.54" y="203.00" textLength="31.00" lengthAdjust="spacingAndGlyphs">R</text><text x="-446.14" y="203.00" textLength="26.52" lengthAdjust="spacingAndGlyphs">P</text><text x="-419.57" y="203.00" textLength="30.15" lengthAdjust="spacingAndGlyphs">K</text><text x="-390.15" y="203.00" textLength="37.33" lengthAdjust="spacingAndGlyphs">M</text></g>
<g font-size="47.58" fill="#000" stroke="#000" stroke-width="0.8"><text x="277.20" y="665.20" textLength="25.25" lengthAdjust="spacingAndGlyphs">3</text><text x="305.00" y="665.20" textLength="26.29" lengthAdjust="spacingAndGlyphs">0</text><text x="333.81" y="665.20" textLength="25.54" lengthAdjust="spacingAndGlyphs">7</text></g>
<g font-size="47.68" fill="#000" stroke="#000" stroke-width="0.8"><text x="234.11" y="709.50" textLength="25.46" lengthAdjust="spacingAndGlyphs">2</text><text x="263.30" y="709.50" textLength="25.30" lengthAdjust="spacingAndGlyphs">3</text><text x="291.17" y="709.50" textLength="26.35" lengthAdjust="spacingAndGlyphs">0</text><text x="319.22" y="709.50" textLength="13.08" lengthAdjust="spacingAndGlyphs">.</text><text x="333.84" y="709.50" textLength="25.46" lengthAdjust="spacingAndGlyphs">2</text></g>
<g font-size="47.53" fill="#000" stroke="#000" stroke-width="0.8"><text x="234.53" y="754.60" textLength="24.98" lengthAdjust="spacingAndGlyphs">1</text><text x="263.08" y="754.60" textLength="24.70" lengthAdjust="spacingAndGlyphs">5</text><text x="291.45" y="754.60" textLength="25.22" lengthAdjust="spacingAndGlyphs">3</text><text x="318.79" y="754.60" textLength="13.04" lengthAdjust="spacingAndGlyphs">.</text><text x="334.09" y="754.60" textLength="24.70" lengthAdjust="spacingAndGlyphs">5</text></g>
<g font-size="47.71" fill="#000" stroke="#000" stroke-width="0.8"><text x="262.70" y="798.60" textLength="25.61" lengthAdjust="spacingAndGlyphs">7</text><text x="290.52" y="798.60" textLength="27.08" lengthAdjust="spacingAndGlyphs">6</text><text x="318.91" y="798.60" textLength="13.09" lengthAdjust="spacingAndGlyphs">.</text><text x="333.58" y="798.60" textLength="26.52" lengthAdjust="spacingAndGlyphs">8</text></g>
<g font-size="47.58" fill="#000" stroke="#000" stroke-width="0.8" transform="rotate(-90)"><text x="-789.54" y="203.00" textLength="31.00" lengthAdjust="spacingAndGlyphs">R</text><text x="-758.14" y="203.00" textLength="26.52" lengthAdjust="spacingAndGlyphs">P</text><text x="-731.57" y="203.00" textLength="30.15" lengthAdjust="spacingAndGlyphs">K</text><text x="-702.15" y="203.00" textLength="37.33" lengthAdjust="spacingAndGlyphs">M</text></g>
<g font-size="47.58" fill="#000" stroke="#000" stroke-width="0.8"><text x="277.20" y="977.20" textLength="25.25" lengthAdjust="spacingAndGlyphs">3</text><text x="305.00" y="977.20" textLength="26.29" lengthAdjust="spacingAndGlyphs">0</text><text x="333.81" y="977.20" textLength="25.54" lengthAdjust="spacingAndGlyphs">7</text></g>
<g font-size="47.68" fill="#000" stroke="#000" stroke-width="0.8"><text x="234.11" y="1021.50" textLength="25.46" lengthAdjust="spacingAndGlyphs">2</text><text x="263.30" y="1021.50" textLength="25.30" lengthAdjust="spacingAndGlyphs">3</text><text x="291.17" y="1021.50" textLength="26.35" lengthAdjust="spacingAndGlyphs">0</text><text x="319.22" y="1021.50" textLength="13.08" lengthAdjust="spacingAndGlyphs">.</text><text x="333.84" y="1021.50" textLength="25.46" lengthAdjust="spacingAndGlyphs">2</text></g>
<g font-size="47.53" fill="#000" stroke="#000" stroke-width="0.8"><text x="234.53" y="1066.60" textLength="24.98" lengthAdjust="spacingAndGlyphs">1</text><text x="263.08" y="1066.60" textLength="24.70" lengthAdjust="spacingAndGlyphs">5</text><text x="291.45" y="1066.60" textLength="25.22" lengthAdjust="spacingAndGlyphs">3</text><text x="318.79" y="1066.60" textLength="13.04" lengthAdjust="spacingAndGlyphs">.</text><text x="334.09" y="1066.60" textLength="24.70" lengthAdjust="spacingAndGlyphs">5</text></g>
<g font-size="47.71" fill="#000" stroke="#000" stroke-width="0.8"><text x="262.70" y="1110.60" textLength="25.61" lengthAdjust="spacingAndGlyphs">7</text><text x="290.52" y="1110.60" textLength="27.08" lengthAdjust="spacingAndGlyphs">6</text><text x="318.91" y="1110.60" textLength="13.09" lengthAdjust="spacingAndGlyphs">.</text><text x="333.58" y="1110.60" textLength="26.52" lengthAdjust="spacingAndGlyphs">8</text></g>
<g font-size="47.58" fill="#000" stroke="#000" stroke-width="0.8" transform="rotate(-90)"><text x="-1101.54" y="203.00" textLength="31.00" lengthAdjust="spacingAndGlyphs">R</text><text x="-1070.14" y="203.00" textLength="26.52" lengthAdjust="spacingAndGlyphs">P</text><text x="-1043.57" y="203.00" textLength="30.15" lengthAdjust="spacingAndGlyphs">K</text><text x="-1014.15" y="203.00" textLength="37.33" lengthAdjust="spacingAndGlyphs">M</text></g>
<g font-size="47.58" fill="#000" stroke="#000" stroke-width="0.8"><text x="277.20" y="1289.20" textLength="25.25" lengthAdjust="spacingAndGlyphs">3</text><text x="305.00" y="1289.20" textLength="26.29" lengthAdjust="spacingAndGlyphs">0</text><text x="333.81" y="1289.20" textLength="25.54" lengthAdjust="spacingAndGlyphs">7</text></g>
<g font-size="47.68" fill="#000" stroke="#000" stroke-width="0.8"><text x="234.11" y="1333.50" textLength="25.46" lengthAdjust="spacingAndGlyphs">2</text><text x="263.30" y="1333.50" textLength="25.30" lengthAdjust="spacingAndGlyphs">3</text><text x="291.17" y="1333.50" textLength="26.35" lengthAdjust="spacingAndGlyphs">0</text><text x="319.22" y="1333.50" textLength="13.08" lengthAdjust="spacingAndGlyphs">.</text><text x="333.84" y="1333.50" textLength="25.46" lengthAdjust="spacingAndGlyphs">2</text></g>
<g font-size="47.53" fill="#000" stroke="#000" stroke-width="0.8"><text x="234.53" y="1378.60" textLength="24.98" lengthAdjust="spacingAndGlyphs">1</text><text x="263.08" y="1378.60" textLength="24.70" lengthAdjust="spacingAndGlyphs">5</text><text x="291.45" y="1378.60" textLength="25.22" lengthAdjust="spacingAndGlyphs">3</text><text x="318.79" y="1378.60" textLength="13.04" lengthAdjust="spacingAndGlyphs">.</text><text x="334.09" y="1378.60" textLength="24.70" lengthAdjust="spacingAndGlyphs">5</text></g>
<g font-size="47.71" fill="#000" stroke="#000" stroke-width="0.8"><text x="262.70" y="1422.60" textLength="25.61" lengthAdjust="spacingAndGlyphs">7</text><text x="290.52" y="1422.60" textLength="27.08" lengthAdjust="spacingAndGlyphs">6</text><text x="318.91" y="1422.60" textLength="13.09" lengthAdjust="spacingAndGlyphs">.</text><text x="333.58" y="1422.60" textLength="26.52" lengthAdjust="spacingAndGlyphs">8</text></g>
<g font-size="47.58" fill="#000" stroke="#000" stroke-width="0.8" transform="rotate(-90)"><text x="-1413.54" y="203.00" textLength="31.00" lengthAdjust="spacingAndGlyphs">R</text><text x="-1382.14" y="203.00" textLength="26.52" lengthAdjust="spacingAndGlyphs">P</text><text x="-1355.57" y="203.00" textLength="30.15" lengthAdjust="spacingAndGlyphs">K</text><text x="-1326.15" y="203.00" textLength="37.33" lengthAdjust="spacingAndGlyphs">M</text></g>
<line x1="397.9" y1="1555" x2="2341.1" y2="1555" stroke="#000" stroke-width="4.4"/>
<line x1="400.4" y1="1555" x2="400.4" y2="1575.4" stroke="#000" stroke-width="4.4"/>
<line x1="787.0" y1="1555" x2="787.0" y2="1575.4" stroke="#000" stroke-width="4.4"/>
<line x1="1173.8" y1="1555" x2="1173.8" y2="1575.4" stroke="#000" stroke-width="4.4"/>
<line x1="1560.6" y1="1555" x2="1560.6" y2="1575.4" stroke="#000" stroke-width="4.4"/>
<line x1="1946.8" y1="1555" x2="1946.8" y2="1575.4" stroke="#000" stroke-width="4.4"/>
<line x1="2334.0" y1="1555" x2="2334.0" y2="1575.4" stroke="#000" stroke-width="4.4"/>
<g font-size="38.21" fill="#000" stroke="#000" stroke-width="0.8"><text x="309.86" y="1620.60" textLength="20.51" lengthAdjust="spacingAndGlyphs">7</text><text x="332.43" y="1620.60" textLength="21.05" lengthAdjust="spacingAndGlyphs">4</text><text x="355.53" y="1620.60" textLength="20.51" lengthAdjust="spacingAndGlyphs">7</text><text x="378.60" y="1620.60" textLength="19.86" lengthAdjust="spacingAndGlyphs">5</text><text x="400.93" y="1620.60" textLength="21.05" lengthAdjust="spacingAndGlyphs">4</text><text x="424.03" y="1620.60" textLength="20.51" lengthAdjust="spacingAndGlyphs">7</text><text x="446.99" y="1620.60" textLength="20.08" lengthAdjust="spacingAndGlyphs">1</text><text x="469.39" y="1620.60" textLength="21.24" lengthAdjust="spacingAndGlyphs">8</text></g>
<g font-size="38.38" fill="#000" stroke="#000" stroke-width="0.8"><text x="695.65" y="1620.60" textLength="20.60" lengthAdjust="spacingAndGlyphs">7</text><text x="718.32" y="1620.60" textLength="21.14" lengthAdjust="spacingAndGlyphs">4</text><text x="741.53" y="1620.60" textLength="20.60" lengthAdjust="spacingAndGlyphs">7</text><text x="764.70" y="1620.60" textLength="19.95" lengthAdjust="spacingAndGlyphs">5</text><text x="787.14" y="1620.60" textLength="21.14" lengthAdjust="spacingAndGlyphs">4</text><text x="809.79" y="1620.60" textLength="21.79" lengthAdjust="spacingAndGlyphs">6</text><text x="833.52" y="1620.60" textLength="19.95" lengthAdjust="spacingAndGlyphs">5</text><text x="855.92" y="1620.60" textLength="21.21" lengthAdjust="spacingAndGlyphs">0</text></g>
<g font-size="38.31" fill="#000" stroke="#000" stroke-width="0.8"><text x="1082.85" y="1620.60" textLength="20.57" lengthAdjust="spacingAndGlyphs">7</text><text x="1105.48" y="1620.60" textLength="21.11" lengthAdjust="spacingAndGlyphs">4</text><text x="1128.65" y="1620.60" textLength="20.57" lengthAdjust="spacingAndGlyphs">7</text><text x="1151.78" y="1620.60" textLength="19.91" lengthAdjust="spacingAndGlyphs">5</text><text x="1174.18" y="1620.60" textLength="21.11" lengthAdjust="spacingAndGlyphs">4</text><text x="1197.57" y="1620.60" textLength="19.91" lengthAdjust="spacingAndGlyphs">5</text><text x="1219.92" y="1620.60" textLength="21.29" lengthAdjust="spacingAndGlyphs">8</text><text x="1242.78" y="1620.60" textLength="20.46" lengthAdjust="spacingAndGlyphs">2</text></g>
<g font-size="37.93" fill="#000" stroke="#000" stroke-width="0.8"><text x="1470.36" y="1620.60" textLength="20.41" lengthAdjust="spacingAndGlyphs">7</text><text x="1492.83" y="1620.60" textLength="20.95" lengthAdjust="spacingAndGlyphs">4</text><text x="1515.82" y="1620.60" textLength="20.41" lengthAdjust="spacingAndGlyphs">7</text><text x="1538.78" y="1620.60" textLength="19.76" lengthAdjust="spacingAndGlyphs">5</text><text x="1561.01" y="1620.60" textLength="20.95" lengthAdjust="spacingAndGlyphs">4</text><text x="1584.23" y="1620.60" textLength="19.76" lengthAdjust="spacingAndGlyphs">5</text><text x="1606.85" y="1620.60" textLength="19.98" lengthAdjust="spacingAndGlyphs">1</text><text x="1629.19" y="1620.60" textLength="20.95" lengthAdjust="spacingAndGlyphs">4</text></g>
<g font-size="38.10" fill="#000" stroke="#000" stroke-width="0.8"><text x="1857.06" y="1620.60" textLength="20.45" lengthAdjust="spacingAndGlyphs">7</text><text x="1879.57" y="1620.60" textLength="20.99" lengthAdjust="spacingAndGlyphs">4</text><text x="1902.61" y="1620.60" textLength="20.45" lengthAdjust="spacingAndGlyphs">7</text><text x="1925.62" y="1620.60" textLength="19.80" lengthAdjust="spacingAndGlyphs">5</text><text x="1947.89" y="1620.60" textLength="20.99" lengthAdjust="spacingAndGlyphs">4</text><text x="1970.67" y="1620.60" textLength="20.99" lengthAdjust="spacingAndGlyphs">4</text><text x="1993.44" y="1620.60" textLength="20.99" lengthAdjust="spacingAndGlyphs">4</text><text x="2015.92" y="1620.60" textLength="21.63" lengthAdjust="spacingAndGlyphs">6</text></g>
<g font-size="38.64" fill="#000" stroke="#000" stroke-width="0.8"><text x="2241.93" y="1620.60" textLength="20.75" lengthAdjust="spacingAndGlyphs">7</text><text x="2264.77" y="1620.60" textLength="21.29" lengthAdjust="spacingAndGlyphs">4</text><text x="2288.13" y="1620.60" textLength="20.75" lengthAdjust="spacingAndGlyphs">7</text><text x="2311.47" y="1620.60" textLength="20.08" lengthAdjust="spacingAndGlyphs">5</text><text x="2334.06" y="1620.60" textLength="21.29" lengthAdjust="spacingAndGlyphs">4</text><text x="2357.63" y="1620.60" textLength="20.51" lengthAdjust="spacingAndGlyphs">3</text><text x="2380.52" y="1620.60" textLength="20.75" lengthAdjust="spacingAndGlyphs">7</text><text x="2403.62" y="1620.60" textLength="20.75" lengthAdjust="spacingAndGlyphs">7</text></g>
<g font-size="46.67" fill="#000" stroke="#000" stroke-width="0.8"><text x="949.73" y="1683.10" textLength="33.83" lengthAdjust="spacingAndGlyphs">G</text><text x="984.36" y="1683.10" textLength="26.74" lengthAdjust="spacingAndGlyphs">e</text><text x="1012.10" y="1683.10" textLength="26.80" lengthAdjust="spacingAndGlyphs">n</text><text x="1040.00" y="1683.10" textLength="26.33" lengthAdjust="spacingAndGlyphs">o</text><text x="1067.37" y="1683.10" textLength="42.38" lengthAdjust="spacingAndGlyphs">m</text><text x="1111.31" y="1683.10" textLength="10.17" lengthAdjust="spacingAndGlyphs">i</text><text x="1123.08" y="1683.10" textLength="22.39" lengthAdjust="spacingAndGlyphs">c</text><text x="1161.72" y="1683.10" textLength="22.39" lengthAdjust="spacingAndGlyphs">c</text><text x="1186.08" y="1683.10" textLength="26.33" lengthAdjust="spacingAndGlyphs">o</text><text x="1213.32" y="1683.10" textLength="26.33" lengthAdjust="spacingAndGlyphs">o</text><text x="1240.44" y="1683.10" textLength="18.94" lengthAdjust="spacingAndGlyphs">r</text><text x="1258.82" y="1683.10" textLength="26.96" lengthAdjust="spacingAndGlyphs">d</text><text x="1287.05" y="1683.10" textLength="10.17" lengthAdjust="spacingAndGlyphs">i</text><text x="1299.03" y="1683.10" textLength="26.80" lengthAdjust="spacingAndGlyphs">n</text><text x="1327.47" y="1683.10" textLength="22.24" lengthAdjust="spacingAndGlyphs">a</text><text x="1354.11" y="1683.10" textLength="16.49" lengthAdjust="spacingAndGlyphs">t</text><text x="1371.64" y="1683.10" textLength="26.74" lengthAdjust="spacingAndGlyphs">e</text><text x="1414.20" y="1683.10" textLength="12.59" lengthAdjust="spacingAndGlyphs">(</text><text x="1430.70" y="1683.10" textLength="22.39" lengthAdjust="spacingAndGlyphs">c</text><text x="1455.24" y="1683.10" textLength="26.96" lengthAdjust="spacingAndGlyphs">h</text><text x="1483.16" y="1683.10" textLength="18.94" lengthAdjust="spacingAndGlyphs">r</text><text x="1502.10" y="1683.10" textLength="25.31" lengthAdjust="spacingAndGlyphs">2</text><text x="1532.75" y="1683.10" textLength="12.59" lengthAdjust="spacingAndGlyphs">)</text><text x="1544.44" y="1683.10" textLength="18.08" lengthAdjust="spacingAndGlyphs">,</text><text x="1577.49" y="1683.10" textLength="15.80" lengthAdjust="spacingAndGlyphs">&quot;</text><text x="1595.58" y="1683.10" textLength="16.04" lengthAdjust="spacingAndGlyphs">-</text><text x="1614.03" y="1683.10" textLength="15.80" lengthAdjust="spacingAndGlyphs">&quot;</text><text x="1647.61" y="1683.10" textLength="21.24" lengthAdjust="spacingAndGlyphs">s</text><text x="1669.86" y="1683.10" textLength="16.49" lengthAdjust="spacingAndGlyphs">t</text><text x="1687.29" y="1683.10" textLength="18.94" lengthAdjust="spacingAndGlyphs">r</text><text x="1706.25" y="1683.10" textLength="22.24" lengthAdjust="spacingAndGlyphs">a</text><text x="1733.32" y="1683.10" textLength="26.80" lengthAdjust="spacingAndGlyphs">n</text><text x="1761.17" y="1683.10" textLength="26.96" lengthAdjust="spacingAndGlyphs">d</text></g>
<rect x="400" y="2164.2" width="674.5" height="59.6" fill="#000"/>
<rect x="1517.2" y="2164.2" width="822.6" height="59.6" fill="#000"/>
<rect x="1517.2" y="2362.5" width="822.6" height="59.8" fill="#000"/>
<line x1="1074" y1="2194" x2="1518" y2="2194" stroke="#000" stroke-width="3"/>
<line x1="400" y1="2392.6" x2="1518" y2="2392.6" stroke="#000" stroke-width="2.8"/>
<path d="M430.1,2379.7L439.3,2392.7L430.1,2405.7M468.9,2379.7L478.1,2392.7L468.9,2405.7M507.7,2379.7L516.9,2392.7L507.7,2405.7M546.4,2379.7L555.6,2392.7L546.4,2405.7M585.2,2379.7L594.4,2392.7L585.2,2405.7M624.0,2379.7L633.2,2392.7L624.0,2405.7M662.8,2379.7L672.0,2392.7L662.8,2405.7M701.6,2379.7L710.8,2392.7L701.6,2405.7M740.3,2379.7L749.5,2392.7L740.3,2405.7M779.1,2379.7L788.3,2392.7L779.1,2405.7M817.9,2379.7L827.1,2392.7L817.9,2405.7M856.7,2379.7L865.9,2392.7L856.7,2405.7M895.5,2379.7L904.7,2392.7L895.5,2405.7M934.2,2379.7L943.4,2392.7L934.2,2405.7M973.0,2379.7L982.2,2392.7L973.0,2405.7M1011.8,2379.7L1021.0,2392.7L1011.8,2405.7M1050.6,2379.7L1059.8,2392.7L1050.6,2405.7M1089.4,2181.0L1098.6,2194.0L1089.4,2207.0M1089.4,2379.7L1098.6,2392.7L1089.4,2405.7M1128.1,2181.0L1137.3,2194.0L1128.1,2207.0M1128.1,2379.7L1137.3,2392.7L1128.1,2405.7M1166.9,2181.0L1176.1,2194.0L1166.9,2207.0M1166.9,2379.7L1176.1,2392.7L1166.9,2405.7M1205.7,2181.0L1214.9,2194.0L1205.7,2207.0M1205.7,2379.7L1214.9,2392.7L1205.7,2405.7M1244.5,2181.0L1253.7,2194.0L1244.5,2207.0M1244.5,2379.7L1253.7,2392.7L1244.5,2405.7M1283.3,2181.0L1292.5,2194.0L1283.3,2207.0M1283.3,2379.7L1292.5,2392.7L1283.3,2405.7M1322.0,2181.0L1331.2,2194.0L1322.0,2207.0M1322.0,2379.7L1331.2,2392.7L1322.0,2405.7M1360.8,2181.0L1370.0,2194.0L1360.8,2207.0M1360.8,2379.7L1370.0,2392.7L1360.8,2405.7M1399.6,2181.0L1408.8,2194.0L1399.6,2207.0M1399.6,2379.7L1408.8,2392.7L1399.6,2405.7M1438.4,2181.0L1447.6,2194.0L1438.4,2207.0M1438.4,2379.7L1447.6,2392.7L1438.4,2405.7M1477.2,2181.0L1486.4,2194.0L1477.2,2207.0M1477.2,2379.7L1486.4,2392.7L1477.2,2405.7M1515.9,2181.0L1525.1,2194.0L1515.9,2207.0M1515.9,2379.7L1525.1,2392.7L1515.9,2405.7" fill="none" stroke="#000" stroke-width="2.9"/>
<rect x="1517.2" y="2164.2" width="822.6" height="59.6" fill="#000"/>
<rect x="1517.2" y="2362.5" width="822.6" height="59.8" fill="#000"/>
</svg></body></html>
